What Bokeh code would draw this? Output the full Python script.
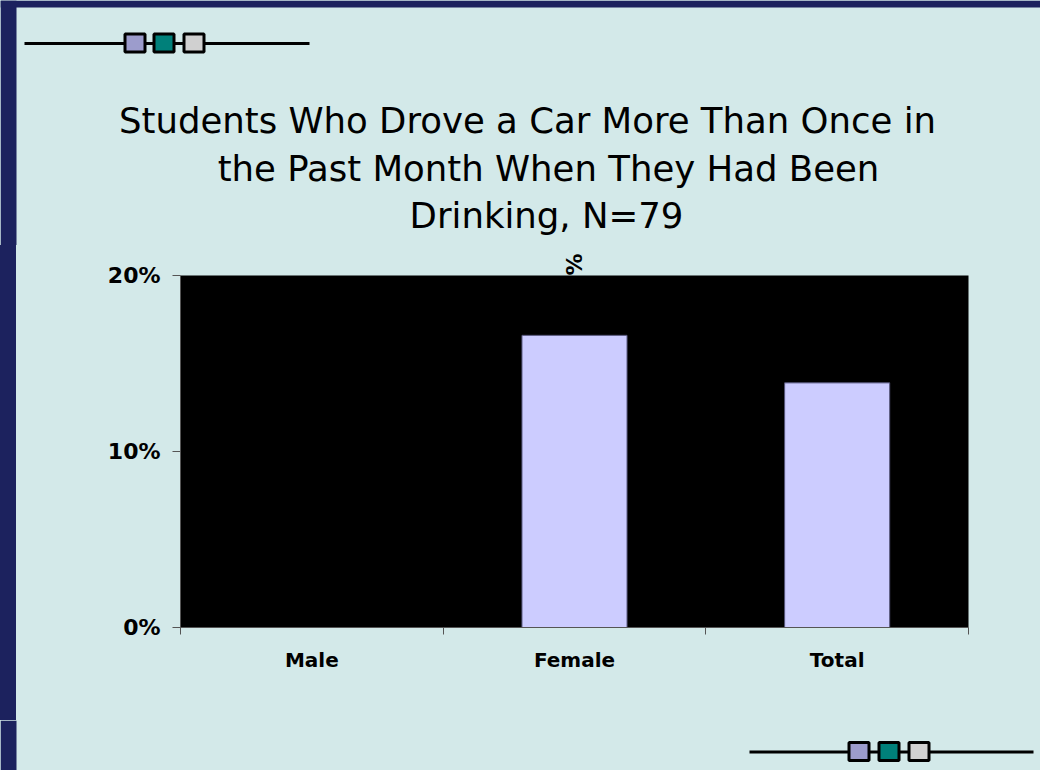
import math
from bokeh.plotting import figure
from bokeh.layouts import column, row
from bokeh.models import Range1d, FixedTicker, LinearAxis, Spacer
from bokeh.core.properties import value
from bokeh.embed import file_html
from bokeh.resources import INLINE

# ---- data ----
categories = ["Male", "Female", "Total"]
percent_values = [0.0, 16.6, 13.9]
y_tick_values = [0, 10, 20]
y_tick_labels = ["0%", "10%", "20%"]
title_lines = [
    "Students Who Drove a Car More Than Once in",
    "the Past Month When They Had Been",
    "Drinking, N=79",
]
clipped_label_text = "%"

# ---- style / layout constants ----
W, H = 1040, 770
TOP_H = 245          # header figure height
MAIN_H = 475         # chart figure height
BOT_H = H - TOP_H - MAIN_H
STRIP = 16
BG = "#d3e9e9"
NAVY = "#1c225e"
FONT = "DejaVu Sans"
SQ_COLORS = ["#9c9ccc", "#00807a", "#d0d0d0"]


def blank_fig(w, h, y0):
    f = figure(width=w, height=h, x_range=Range1d(0, w), y_range=Range1d(y0 + h, y0),
               output_backend="svg", toolbar_location=None,
               x_axis_type=None, y_axis_type=None, min_border=0)
    f.title.visible = False
    f.background_fill_color = BG
    f.border_fill_color = BG
    f.outline_line_color = None
    f.xgrid.visible = False
    f.ygrid.visible = False
    return f


def decoration(f, x0, x1, yc, sq_lefts):
    f.quad(left=[x0], right=[x1], top=[yc - 1.5], bottom=[yc + 1.5],
           fill_color="black", line_color=None)
    f.quad(left=[l + 1.5 for l in sq_lefts], right=[l + 21.5 for l in sq_lefts],
           top=[yc - 9.5] * 3, bottom=[yc + 8.5] * 3,
           fill_color=SQ_COLORS, line_color="black", line_width=3)


# ---------------- header ----------------
top = blank_fig(W, TOP_H, 0)
top.quad(left=[0, 0], right=[W, STRIP], top=[0, 0], bottom=[7, TOP_H],
         fill_color=NAVY, line_color=None)
decoration(top, 24, 309, 43, [123, 152, 182])
top.text(x=[527, 548, 546], y=[120, 168, 215], text=title_lines,
         text_align="center", text_baseline="alphabetic",
         text_font=value(FONT), text_font_size=value("35.5px"), text_color="black")

# ---------------- main chart ----------------
FL, FR, FT, FB = 164, 1024 - 72, 30, 30 + 352
p = figure(width=W - STRIP, height=MAIN_H, x_range=Range1d(0, len(categories)), y_range=Range1d(0, 20),
           output_backend="svg", toolbar_location=None,
           min_border_left=FL, min_border_right=72, min_border_top=FT, min_border_bottom=MAIN_H - FB)
p.title.visible = False
p.background_fill_color = "black"
p.border_fill_color = BG
p.outline_line_color = None
p.xgrid.grid_line_color = None
p.ygrid.grid_line_color = None

x_pos = [i + 0.5 for i in range(len(categories))]
p.vbar(x=x_pos, top=percent_values, width=0.4, bottom=0,
       fill_color="#ccccff", line_color="#55557a", line_width=1)

ya = p.yaxis[0]
ya.ticker = FixedTicker(ticks=y_tick_values, minor_ticks=[])
ya.major_label_overrides = {v: l for v, l in zip(y_tick_values, y_tick_labels)}
ya.major_tick_out = 8
ya.major_tick_in = 0
ya.minor_tick_out = 0
ya.minor_tick_line_color = None
ya.major_tick_line_color = "#555555"
ya.axis_line_color = "#555555"
ya.major_label_standoff = 12
ya.major_label_text_font = FONT
ya.major_label_text_font_style = "bold"
ya.major_label_text_font_size = "22px"
ya.major_label_text_color = "black"

xa = p.xaxis[0]
xa.ticker = FixedTicker(ticks=x_pos, minor_ticks=list(range(len(categories) + 1)))
xa.major_label_overrides = {v: c for v, c in zip(x_pos, categories)}
xa.major_tick_line_color = None
xa.major_tick_out = 0
xa.major_tick_in = 0
xa.minor_tick_out = 7
xa.minor_tick_in = 0
xa.minor_tick_line_color = "#555555"
xa.axis_line_color = "#555555"
xa.major_label_standoff = 13
xa.major_label_text_font = FONT
xa.major_label_text_font_style = "bold"
xa.major_label_text_font_size = "20px"
xa.major_label_text_color = "black"

# clipped, rotated data label peeking above the plot area (over "Female")
top_axis = LinearAxis(ticker=FixedTicker(ticks=[x_pos[1]], minor_ticks=[]),
                      major_label_overrides={x_pos[1]: clipped_label_text},
                      axis_line_color=None, major_tick_line_color=None,
                      minor_tick_line_color=None, major_tick_out=0, major_tick_in=0,
                      minor_tick_out=0, major_label_standoff=0,
                      major_label_orientation=math.pi / 2,
                      major_label_text_font=FONT, major_label_text_font_style="bold",
                      major_label_text_font_size="22px", major_label_text_color="black")
p.add_layout(top_axis, "above")

strip = Spacer(width=STRIP, height=MAIN_H, styles={"background-color": NAVY})

# ---------------- footer ----------------
bot = blank_fig(W, BOT_H, TOP_H + MAIN_H)
y0 = TOP_H + MAIN_H
bot.quad(left=[0], right=[STRIP], top=[y0], bottom=[H], fill_color=NAVY, line_color=None)
decoration(bot, 749, 1033, 751.5, [847, 877, 907])

mid = row(strip, p, spacing=0, styles={"background-color": BG})
layout = column(top, mid, bot, spacing=0, styles={"background-color": BG})

open("out.html", "w").write(file_html(layout, INLINE))
